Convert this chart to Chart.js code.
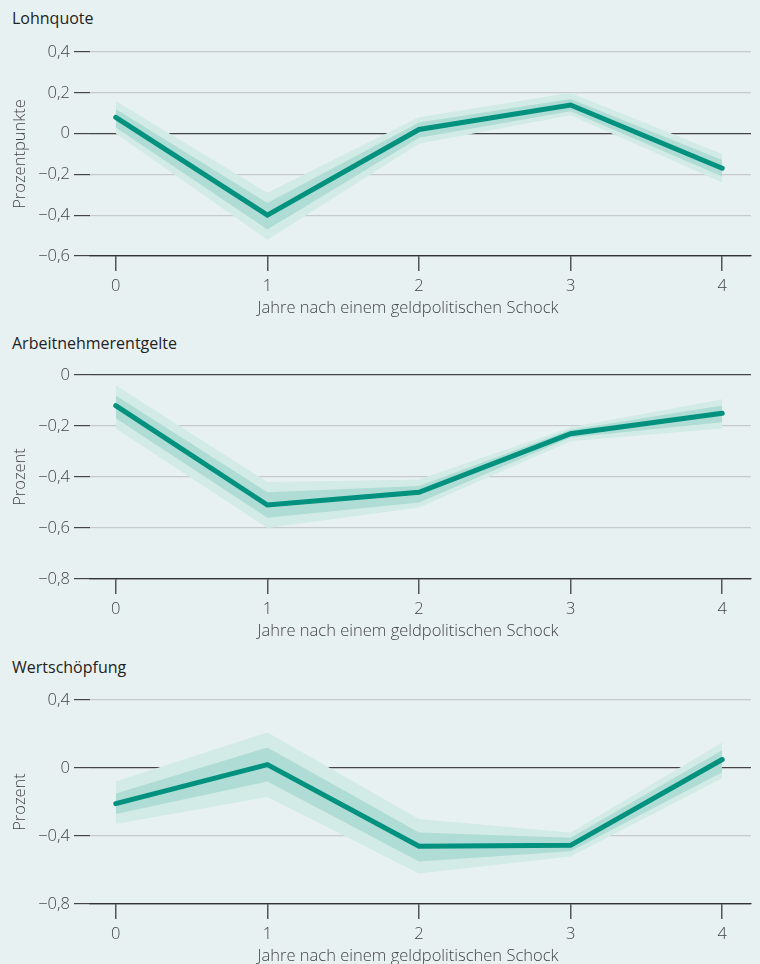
<!DOCTYPE html>
<html lang="de">
<head>
<meta charset="utf-8">
<script src="https://cdn.jsdelivr.net/npm/chart.js@4.4.1/dist/chart.umd.min.js"></script>
<style>
  html, body { margin: 0; padding: 0; background: #e8f1f2; width: 760px; height: 964px; overflow: hidden; }
  body { position: relative; font-family: "Open Sans", sans-serif; }
  .titel { position: absolute; left: 12px; font-size: 16px; line-height: 20px; color: #222; font-weight: 400; }
  .xtitel { position: absolute; left: 0; width: 816px; text-align: center; font-size: 16.5px; line-height: 20px; color: #444; font-weight: 300; }
  .panel { position: absolute; left: 0; width: 760px; height: 290px; }
</style>
</head>
<body>
<div class="titel" style="top:8px">Lohnquote</div>
<div class="panel" style="top:30px"><canvas id="c1"></canvas></div>
<div class="xtitel" style="top:297px">Jahre nach einem geldpolitischen Schock</div>
<div class="titel" style="top:333px">Arbeitnehmerentgelte</div>
<div class="panel" style="top:353px"><canvas id="c2"></canvas></div>
<div class="xtitel" style="top:620px">Jahre nach einem geldpolitischen Schock</div>
<div class="titel" style="top:657px">Wertschöpfung</div>
<div class="panel" style="top:678px"><canvas id="c3"></canvas></div>
<div class="xtitel" style="top:945px">Jahre nach einem geldpolitischen Schock</div>

<script>
const jahre = [0, 1, 2, 3, 4];

// Lohnquote (Prozentpunkte)
const lohnquote      = [0.08, -0.40, 0.02, 0.14, -0.17];
const lohnInnenOben  = [0.12, -0.34, 0.055, 0.17, -0.13];
const lohnInnenUnten = [0.03, -0.47, -0.02, 0.11, -0.21];
const lohnAussenOben = [0.16, -0.29, 0.08, 0.20, -0.10];
const lohnAussenUnt  = [0.00, -0.52, -0.05, 0.09, -0.24];

// Arbeitnehmerentgelte (Prozent)
const ane            = [-0.12, -0.51, -0.46, -0.23, -0.15];
const aneInnenOben   = [-0.08, -0.46, -0.435, -0.215, -0.12];
const aneInnenUnten  = [-0.17, -0.56, -0.50, -0.245, -0.185];
const aneAussenOben  = [-0.04, -0.42, -0.41, -0.205, -0.095];
const aneAussenUnt   = [-0.21, -0.60, -0.52, -0.26, -0.21];

// Wertschöpfung (Prozent)
const wert           = [-0.21, 0.02, -0.46, -0.455, 0.05];
const wertInnenOben  = [-0.15, 0.12, -0.38, -0.41, 0.105];
const wertInnenUnten = [-0.27, -0.08, -0.55, -0.49, -0.025];
const wertAussenOben = [-0.08, 0.21, -0.30, -0.38, 0.15];
const wertAussenUnt  = [-0.33, -0.17, -0.62, -0.52, -0.06];

const TEAL = '#00917f';
const INNEN = '#afdcd4';
const AUSSEN = '#d3ebe6';
const SCHRIFT = { family: 'Open Sans', size: 16.5, weight: 300 };

function zahl(v) {
  const r = Math.round(v * 10) / 10;
  if (r === 0) return '0';
  return (r < 0 ? '\u2212' : '') + Math.abs(r).toFixed(1).replace('.', ',');
}

function pts(werte) {
  return jahre.map((j, i) => ({ x: j, y: werte[i] }));
}

function band(werte, farbe, fill, order) {
  return {
    data: pts(werte), fill: fill, backgroundColor: farbe,
    borderWidth: 0, pointRadius: 0, order: order
  };
}

function zeichne(id, linie, io, iu, ao, au, yMin, yMax, schritt, yTitel) {
  new Chart(document.getElementById(id), {
    type: 'line',
    data: {
      datasets: [
        { data: pts(linie), borderColor: TEAL, borderWidth: 5, pointRadius: 0,
          fill: false, borderCapStyle: 'round', borderJoinStyle: 'miter', order: 0 },
        band(io, INNEN, '+1', 1),
        band(iu, INNEN, false, 1),
        band(ao, AUSSEN, '+1', 2),
        band(au, AUSSEN, false, 2)
      ]
    },
    options: {
      responsive: true,
      maintainAspectRatio: false,
      animation: false,
      layout: { padding: { top: 22, right: 9, left: 0, bottom: 0 } },
      plugins: { legend: { display: false }, tooltip: { enabled: false } },
      scales: {
        x: {
          type: 'linear', min: -0.17, max: 4.19,
          afterBuildTicks: s => { s.ticks = jahre.map(v => ({ value: v })); },
          afterFit: s => { s.height = 64; },
          grid: { drawOnChartArea: false, drawTicks: true, tickLength: 15, tickColor: '#555', lineWidth: 1.5 },
          border: { display: true, color: '#333', width: 1.2 },
          ticks: { padding: 5, color: '#444', font: SCHRIFT }
        },
        y: {
          min: yMin, max: yMax,
          afterFit: s => { s.width = 90; },
          afterBuildTicks: s => {
            const t = [];
            for (let v = yMin; v <= yMax + 1e-9; v += schritt) t.push({ value: Math.round(v * 10) / 10 });
            s.ticks = t;
          },
          grid: {
            tickLength: 16,
            color: c => (c.tick && (c.tick.value === 0 || c.tick.value === yMin)) ? '#444' : '#c5cacc',
            lineWidth: 1.2,
            tickColor: '#444'
          },
          border: { display: false },
          ticks: { padding: 4, color: '#444', callback: v => zahl(v), font: SCHRIFT },
          title: { display: true, text: yTitel, color: '#444', padding: { top: 10, bottom: 0 }, font: SCHRIFT }
        }
      }
    }
  });
}

zeichne('c1', lohnquote, lohnInnenOben, lohnInnenUnten, lohnAussenOben, lohnAussenUnt, -0.6, 0.4, 0.2, 'Prozentpunkte');
zeichne('c2', ane, aneInnenOben, aneInnenUnten, aneAussenOben, aneAussenUnt, -0.8, 0, 0.2, 'Prozent');
zeichne('c3', wert, wertInnenOben, wertInnenUnten, wertAussenOben, wertAussenUnt, -0.8, 0.4, 0.4, 'Prozent');
</script>
</body>
</html>
